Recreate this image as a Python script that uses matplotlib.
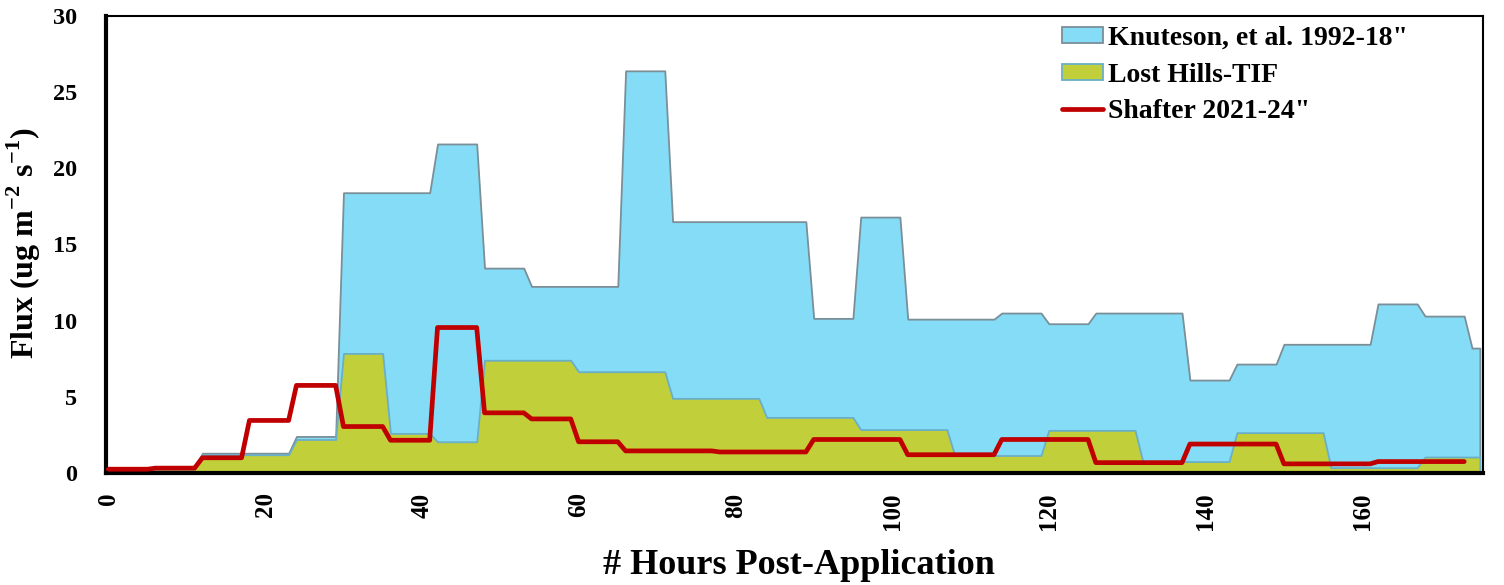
import numpy as np
import matplotlib
matplotlib.use("Agg")
import matplotlib.pyplot as plt
from matplotlib.patches import Patch
from matplotlib.lines import Line2D

# ---- data (values per 6-hour block, hourly resolution) ----
block_hours = 6
n_hours_area = 176   # hours 0..175
n_hours_line = 174   # hours 0..173

knuteson_blocks = [0.30, 0.35, 1.30, 1.30, 2.40, 18.40, 18.40, 21.60, 13.45, 12.25,
                   12.25, 26.40, 16.50, 16.50, 16.50, 10.15, 16.80, 10.10, 10.10, 10.50,
                   9.80, 10.50, 10.50, 6.10, 7.15, 8.45, 8.45, 11.10, 10.30, 8.20]
losthills_blocks = [0.20, 0.25, 1.20, 1.20, 2.20, 7.85, 2.60, 2.05, 7.40, 7.40,
                    6.65, 6.65, 4.90, 4.90, 3.65, 3.65, 2.85, 2.85, 1.15, 1.15,
                    2.80, 2.80, 0.75, 0.75, 2.65, 2.65, 0.35, 0.35, 1.05, 1.05]
shafter_blocks = [0.25, 0.32, 1.00, 3.45, 5.75, 3.05, 2.15, 9.55, 3.95, 3.55,
                  2.05, 1.45, 1.45, 1.38, 1.38, 2.20, 2.20, 1.20, 1.20, 2.20,
                  2.20, 0.68, 0.68, 1.90, 1.90, 0.60, 0.60, 0.75, 0.75]

labels = ['Knuteson, et al. 1992-18"', 'Lost Hills-TIF', 'Shafter 2021-24"']
xticks = [0, 20, 40, 60, 80, 100, 120, 140, 160]
yticks = [0, 5, 10, 15, 20, 25, 30]

hours_area = np.arange(n_hours_area)
hours_line = np.arange(n_hours_line)
knuteson = np.repeat(knuteson_blocks, block_hours)[:n_hours_area]
losthills = np.repeat(losthills_blocks, block_hours)[:n_hours_area]
shafter = np.repeat(shafter_blocks, block_hours)[:n_hours_line]

# ---- style ----
font = ['Liberation Serif', 'DejaVu Serif']
plt.rcParams['font.family'] = font
plt.rcParams['font.weight'] = 'bold'
plt.rcParams['mathtext.fontset'] = 'custom'
plt.rcParams['mathtext.rm'] = 'Liberation Serif:bold'
plt.rcParams['mathtext.bf'] = 'Liberation Serif:bold'

blue_fill = '#84DCF7'
blue_edge = '#7A8F98'
green_fill = '#C0CF3A'
green_edge = '#6AAFC8'
red = '#C00000'

W, H = 1504, 585
fig = plt.figure(figsize=(W / 100, H / 100), dpi=100)
ax = fig.add_axes([106 / W, 1 - 473 / H, (1483 - 106) / W, (473 - 16) / H])

ax.fill_between(hours_area, 0, knuteson, facecolor=blue_fill, edgecolor=blue_edge, linewidth=1.3, zorder=1)
ax.fill_between(hours_area, 0, losthills, facecolor=green_fill, edgecolor=green_edge, linewidth=1.3, zorder=2)
ax.plot(hours_line, shafter, color=red, linewidth=3.4, solid_capstyle='round', solid_joinstyle='round', zorder=3)

ax.set_xlim(-0.3, 175.4)
ax.set_ylim(0, 30)
ax.set_xticks(xticks)
ax.set_xticklabels([str(t) for t in xticks], rotation=90, fontsize=18, fontweight='bold')
ax.set_yticks(yticks)
ax.set_yticklabels([str(t) for t in yticks], fontsize=17.5, fontweight='bold')
ax.tick_params(axis='both', length=0)
ax.tick_params(axis='x', pad=14)
ax.tick_params(axis='y', pad=21)

for s in ax.spines.values():
    s.set_linewidth(1.5)
    s.set_color('black')
ax.spines['bottom'].set_linewidth(3)
ax.spines['left'].set_linewidth(3)

ax.set_ylabel(r'Flux (ug m$^{\mathbf{-2}}$ s$^{\mathbf{-1}}$)', fontsize=23, fontweight='bold')
ax.yaxis.label.set_va('center')
ax.yaxis.set_label_coords((24 - 106) / (1483 - 106), (473 - 243) / 457)
ax.set_xlabel('# Hours Post-Application', fontsize=26, fontweight='bold')
ax.xaxis.label.set_va('center')
ax.xaxis.set_label_coords((799 - 106) / (1483 - 106), (473 - 566) / 457)

handles = [Patch(facecolor=blue_fill, edgecolor=blue_edge, linewidth=1.3),
           Patch(facecolor=green_fill, edgecolor=green_edge, linewidth=1.3),
           Line2D([0], [0], color=red, linewidth=3.4, solid_capstyle='round')]
leg = fig.legend(handles, labels, loc='upper left', bbox_to_anchor=(1062 / W, 1 - 26 / H),
                 bbox_transform=fig.transFigure,
                 frameon=False, fontsize=20, handlelength=1.47, handleheight=0.5,
                 handletextpad=0.18, labelspacing=0.42, borderaxespad=0, borderpad=0)
for t in leg.get_texts():
    t.set_fontweight('bold')

fig.savefig('out.png', dpi=100)
